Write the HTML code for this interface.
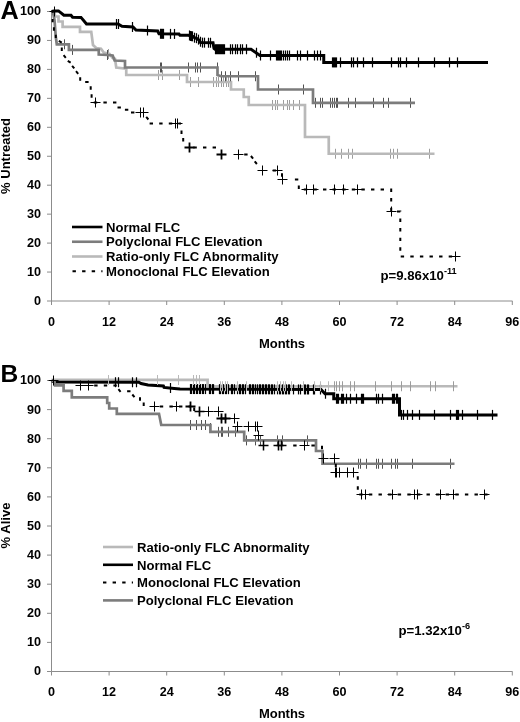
<!DOCTYPE html>
<html><head><meta charset="utf-8"><title>Figure</title>
<style>
html,body{margin:0;padding:0;background:#fff}
svg{display:block}
text{font-family:"Liberation Sans",sans-serif;font-weight:bold;fill:#000}
.t{font-size:12.6px}
.m{font-size:13px}
.l{font-size:13.1px}
.l2{font-size:13.1px}
.big{font-size:25.2px}
.bigb{font-size:24.6px}
</style></head><body>
<svg width="520" height="722" viewBox="0 0 520 722">
<rect width="520" height="722" fill="#fff"/>
<path d="M51.5 11.5V301H512.5" stroke="#8c8c8c" stroke-width="1" fill="none"/><path d="M47 301H51.5" stroke="#8c8c8c" stroke-width="1"/><text x="41" y="304.9" text-anchor="end" class="t">0</text><path d="M47 272.05H51.5" stroke="#8c8c8c" stroke-width="1"/><text x="41" y="275.95" text-anchor="end" class="t">10</text><path d="M47 243.1H51.5" stroke="#8c8c8c" stroke-width="1"/><text x="41" y="247" text-anchor="end" class="t">20</text><path d="M47 214.15H51.5" stroke="#8c8c8c" stroke-width="1"/><text x="41" y="218.05" text-anchor="end" class="t">30</text><path d="M47 185.2H51.5" stroke="#8c8c8c" stroke-width="1"/><text x="41" y="189.1" text-anchor="end" class="t">40</text><path d="M47 156.25H51.5" stroke="#8c8c8c" stroke-width="1"/><text x="41" y="160.15" text-anchor="end" class="t">50</text><path d="M47 127.3H51.5" stroke="#8c8c8c" stroke-width="1"/><text x="41" y="131.2" text-anchor="end" class="t">60</text><path d="M47 98.35H51.5" stroke="#8c8c8c" stroke-width="1"/><text x="41" y="102.25" text-anchor="end" class="t">70</text><path d="M47 69.4H51.5" stroke="#8c8c8c" stroke-width="1"/><text x="41" y="73.3" text-anchor="end" class="t">80</text><path d="M47 40.45H51.5" stroke="#8c8c8c" stroke-width="1"/><text x="41" y="44.35" text-anchor="end" class="t">90</text><path d="M47 11.5H51.5" stroke="#8c8c8c" stroke-width="1"/><text x="41" y="15.4" text-anchor="end" class="t">100</text><path d="M51.5 301V305" stroke="#8c8c8c" stroke-width="1"/><text x="51.5" y="325.6" text-anchor="middle" class="t">0</text><path d="M109.1 301V305" stroke="#8c8c8c" stroke-width="1"/><text x="109.1" y="325.6" text-anchor="middle" class="t">12</text><path d="M166.7 301V305" stroke="#8c8c8c" stroke-width="1"/><text x="166.7" y="325.6" text-anchor="middle" class="t">24</text><path d="M224.3 301V305" stroke="#8c8c8c" stroke-width="1"/><text x="224.3" y="325.6" text-anchor="middle" class="t">36</text><path d="M281.9 301V305" stroke="#8c8c8c" stroke-width="1"/><text x="281.9" y="325.6" text-anchor="middle" class="t">48</text><path d="M339.5 301V305" stroke="#8c8c8c" stroke-width="1"/><text x="339.5" y="325.6" text-anchor="middle" class="t">60</text><path d="M397.1 301V305" stroke="#8c8c8c" stroke-width="1"/><text x="397.1" y="325.6" text-anchor="middle" class="t">72</text><path d="M454.7 301V305" stroke="#8c8c8c" stroke-width="1"/><text x="454.7" y="325.6" text-anchor="middle" class="t">84</text><path d="M512.3 301V305" stroke="#8c8c8c" stroke-width="1"/><text x="512.3" y="325.6" text-anchor="middle" class="t">96</text><text x="282" y="347.5" text-anchor="middle" class="m">Months</text><text transform="translate(9.8 156) rotate(-90)" text-anchor="middle" class="m">% Untreated</text><path d="M51.5 380.5V671.5H512.5" stroke="#8c8c8c" stroke-width="1" fill="none"/><path d="M47 671.5H51.5" stroke="#8c8c8c" stroke-width="1"/><text x="41" y="675.4" text-anchor="end" class="t">0</text><path d="M47 642.4H51.5" stroke="#8c8c8c" stroke-width="1"/><text x="41" y="646.3" text-anchor="end" class="t">10</text><path d="M47 613.3H51.5" stroke="#8c8c8c" stroke-width="1"/><text x="41" y="617.2" text-anchor="end" class="t">20</text><path d="M47 584.2H51.5" stroke="#8c8c8c" stroke-width="1"/><text x="41" y="588.1" text-anchor="end" class="t">30</text><path d="M47 555.1H51.5" stroke="#8c8c8c" stroke-width="1"/><text x="41" y="559" text-anchor="end" class="t">40</text><path d="M47 526H51.5" stroke="#8c8c8c" stroke-width="1"/><text x="41" y="529.9" text-anchor="end" class="t">50</text><path d="M47 496.9H51.5" stroke="#8c8c8c" stroke-width="1"/><text x="41" y="500.8" text-anchor="end" class="t">60</text><path d="M47 467.8H51.5" stroke="#8c8c8c" stroke-width="1"/><text x="41" y="471.7" text-anchor="end" class="t">70</text><path d="M47 438.7H51.5" stroke="#8c8c8c" stroke-width="1"/><text x="41" y="442.6" text-anchor="end" class="t">80</text><path d="M47 409.6H51.5" stroke="#8c8c8c" stroke-width="1"/><text x="41" y="413.5" text-anchor="end" class="t">90</text><path d="M47 380.5H51.5" stroke="#8c8c8c" stroke-width="1"/><text x="41" y="384.4" text-anchor="end" class="t">100</text><path d="M51.5 671.5V675.5" stroke="#8c8c8c" stroke-width="1"/><text x="51.5" y="696.1" text-anchor="middle" class="t">0</text><path d="M109.1 671.5V675.5" stroke="#8c8c8c" stroke-width="1"/><text x="109.1" y="696.1" text-anchor="middle" class="t">12</text><path d="M166.7 671.5V675.5" stroke="#8c8c8c" stroke-width="1"/><text x="166.7" y="696.1" text-anchor="middle" class="t">24</text><path d="M224.3 671.5V675.5" stroke="#8c8c8c" stroke-width="1"/><text x="224.3" y="696.1" text-anchor="middle" class="t">36</text><path d="M281.9 671.5V675.5" stroke="#8c8c8c" stroke-width="1"/><text x="281.9" y="696.1" text-anchor="middle" class="t">48</text><path d="M339.5 671.5V675.5" stroke="#8c8c8c" stroke-width="1"/><text x="339.5" y="696.1" text-anchor="middle" class="t">60</text><path d="M397.1 671.5V675.5" stroke="#8c8c8c" stroke-width="1"/><text x="397.1" y="696.1" text-anchor="middle" class="t">72</text><path d="M454.7 671.5V675.5" stroke="#8c8c8c" stroke-width="1"/><text x="454.7" y="696.1" text-anchor="middle" class="t">84</text><path d="M512.3 671.5V675.5" stroke="#8c8c8c" stroke-width="1"/><text x="512.3" y="696.1" text-anchor="middle" class="t">96</text><text x="282" y="718" text-anchor="middle" class="m">Months</text><text transform="translate(9.8 525.5) rotate(-90)" text-anchor="middle" class="m">% Alive</text><path d="M108.5 49V59" stroke="#9c9c9c" stroke-width="1"/><path d="M158.5 70V80" stroke="#9c9c9c" stroke-width="1"/><path d="M162.5 70V80" stroke="#9c9c9c" stroke-width="1"/><path d="M179.5 70V80" stroke="#9c9c9c" stroke-width="1"/><path d="M190.5 77V87" stroke="#9c9c9c" stroke-width="1"/><path d="M198.5 77V87" stroke="#9c9c9c" stroke-width="1"/><path d="M213.5 77V87" stroke="#9c9c9c" stroke-width="1"/><path d="M216.5 77V87" stroke="#9c9c9c" stroke-width="1"/><path d="M218.5 77V87" stroke="#9c9c9c" stroke-width="1"/><path d="M221.5 77V87" stroke="#9c9c9c" stroke-width="1"/><path d="M223.5 77V87" stroke="#9c9c9c" stroke-width="1"/><path d="M226.5 77V87" stroke="#9c9c9c" stroke-width="1"/><path d="M228.5 77V87" stroke="#9c9c9c" stroke-width="1"/><path d="M272.5 100V110" stroke="#9c9c9c" stroke-width="1"/><path d="M275.5 100V110" stroke="#9c9c9c" stroke-width="1"/><path d="M277.5 100V110" stroke="#9c9c9c" stroke-width="1"/><path d="M283.5 100V110" stroke="#9c9c9c" stroke-width="1"/><path d="M287.5 100V110" stroke="#9c9c9c" stroke-width="1"/><path d="M289.5 100V110" stroke="#9c9c9c" stroke-width="1"/><path d="M293.5 100V110" stroke="#9c9c9c" stroke-width="1"/><path d="M299.5 100V110" stroke="#9c9c9c" stroke-width="1"/><path d="M335.5 148.75V158.75" stroke="#9c9c9c" stroke-width="1"/><path d="M341.5 148.75V158.75" stroke="#9c9c9c" stroke-width="1"/><path d="M348.5 148.75V158.75" stroke="#9c9c9c" stroke-width="1"/><path d="M352.5 148.75V158.75" stroke="#9c9c9c" stroke-width="1"/><path d="M390.5 148.75V158.75" stroke="#9c9c9c" stroke-width="1"/><path d="M393.5 148.75V158.75" stroke="#9c9c9c" stroke-width="1"/><path d="M397.5 148.75V158.75" stroke="#9c9c9c" stroke-width="1"/><path d="M429.5 148.75V158.75" stroke="#9c9c9c" stroke-width="1"/><polyline points="51.5,11.5 54.5,12 55,16.5 58.5,16.5 58.5,21.5 62.6,21.5 62.6,26.9 80,26.9 80,31.9 91.25,31.9 93,45 96.25,48 101,48.75 103.75,52.5 109.6,54 112.7,58 115,58.75 116.25,67.5 126.25,68.75 126.25,75 187,75 187,82 231,82 231,89.5 243.75,89.5 243.75,97 248.75,97 248.75,105 305,105 305,137 328.75,137 328.75,153.75 434.5,153.75" fill="none" stroke="#b9b9b9" stroke-width="2.7" stroke-linejoin="miter"/><path d="M64.5 39.3V49.3" stroke="#505050" stroke-width="1"/><path d="M72.5 44.9V54.9" stroke="#505050" stroke-width="1"/><path d="M107.5 50V60" stroke="#505050" stroke-width="1"/><path d="M161.5 62.5V72.5" stroke="#505050" stroke-width="1"/><path d="M160.5 62.5V72.5" stroke="#505050" stroke-width="1"/><path d="M188.5 62.5V72.5" stroke="#505050" stroke-width="1"/><path d="M195.5 62.5V72.5" stroke="#505050" stroke-width="1"/><path d="M197.5 62.5V72.5" stroke="#505050" stroke-width="1"/><path d="M200.5 62.5V72.5" stroke="#505050" stroke-width="1"/><path d="M217.5 62.5V72.5" stroke="#505050" stroke-width="1"/><path d="M221.5 71.25V81.25" stroke="#505050" stroke-width="1"/><path d="M225.5 71.25V81.25" stroke="#505050" stroke-width="1"/><path d="M230.5 71.25V81.25" stroke="#505050" stroke-width="1"/><path d="M238.5 71.25V81.25" stroke="#505050" stroke-width="1"/><path d="M255.5 71.25V81.25" stroke="#505050" stroke-width="1"/><path d="M278.5 84.5V94.5" stroke="#505050" stroke-width="1"/><path d="M303.5 84.5V94.5" stroke="#505050" stroke-width="1"/><path d="M315.5 97.8V107.8" stroke="#505050" stroke-width="1"/><path d="M320.5 97.8V107.8" stroke="#505050" stroke-width="1"/><path d="M322.5 97.8V107.8" stroke="#505050" stroke-width="1"/><path d="M330.5 97.8V107.8" stroke="#505050" stroke-width="1"/><path d="M332.5 97.8V107.8" stroke="#505050" stroke-width="1"/><path d="M334.5 97.8V107.8" stroke="#505050" stroke-width="1"/><path d="M336.5 97.8V107.8" stroke="#505050" stroke-width="1"/><path d="M337.5 97.8V107.8" stroke="#505050" stroke-width="1"/><path d="M348.5 97.8V107.8" stroke="#505050" stroke-width="1"/><path d="M355.5 97.8V107.8" stroke="#505050" stroke-width="1"/><path d="M373.5 97.8V107.8" stroke="#505050" stroke-width="1"/><path d="M383.5 97.8V107.8" stroke="#505050" stroke-width="1"/><path d="M388.5 97.8V107.8" stroke="#505050" stroke-width="1"/><path d="M410.5 97.8V107.8" stroke="#505050" stroke-width="1"/><polyline points="51.5,11.5 53,12.5 54.5,20 55.8,37 56.8,44.3 68.9,44.3 68.9,49.9 98.75,49.9 98.75,54.5 107.5,55 112.7,55.5 114.6,60.5 125,61 125,67.5 217.5,67.5 217.5,75 221,76.25 258,76.25 258,89.5 313,89.5 313,102.8 415,102.8" fill="none" stroke="#7c7c7c" stroke-width="2.7" stroke-linejoin="miter"/><path d="M52.6 18.9 L52.6 22.3M53.9 27.3 L53.9 30.7M55.8 34.7 L55.8 38.1M58.855 40.899 L61.745 42.701M61.8 47.6 L61.8 51M63.612 55.191 L65.788 57.809M67.755 60.799 L70.645 62.601M72.112 65.791 L74.288 68.409M76.012 71.191 L78.188 73.809M80.2 77.3 L80.2 80.7M85.2 81.9 L88.6 81.9M90.7 86.3 L90.7 89.7M91.6 94.3 L91.6 97.7M93.8 102.5 L116.5 102.5M117.5 107.5 L120.9 107.5M124.9 109.8 L128.3 109.8M131 112.5 L134.4 112.5M146.212 116.891 L148.388 119.509M149.6 123.5 L181 123.5M181.5 130.6 L181.5 134M183.2 138 L183.2 141.4M193.4 147.5 L216.2 147.5M244.2 154.5 L247.6 154.5M250.912 155.991 L253.088 158.609M254.712 161.391 L256.888 164.009M272.7 170.5 L276.1 170.5M282 173.3 L282 176.7M294.9 179.5 L298.5 179.5M298.8 185.6 L298.8 189M303.8 189.5 L391.2 189.5 L391.2 211.5 L400.3 211.5 L400.3 214M400.3 218.5 L400.3 256.5 L455 256.5" fill="none" stroke="#000" stroke-width="2" stroke-dasharray="3.4 6.2"/><path d="M54.5 6.5V16.5M49.5 11.5H59.5" stroke="#000" stroke-width="1"/><path d="M95.5 97.5V107.5M90.5 102.5H100.5" stroke="#000" stroke-width="1"/><path d="M140.5 107.5V117.5M135.5 112.5H145.5" stroke="#000" stroke-width="1"/><path d="M143.5 107.5V117.5M138.5 112.5H148.5" stroke="#000" stroke-width="1"/><path d="M175.5 118.5V128.5M170.5 123.5H180.5" stroke="#000" stroke-width="1"/><path d="M177.5 118.5V128.5M172.5 123.5H182.5" stroke="#000" stroke-width="1"/><path d="M189.5 142.5V152.5M184.5 147.5H194.5" stroke="#000" stroke-width="1.8"/><path d="M221.5 149.5V159.5M216.5 154.5H226.5" stroke="#000" stroke-width="1.8"/><path d="M238.5 149.5V159.5M233.5 154.5H243.5" stroke="#000" stroke-width="1"/><path d="M262.5 165.5V175.5M257.5 170.5H267.5" stroke="#000" stroke-width="1"/><path d="M277.5 165.5V175.5M272.5 170.5H282.5" stroke="#000" stroke-width="1"/><path d="M282.5 174.5V184.5M277.5 179.5H287.5" stroke="#000" stroke-width="1"/><path d="M306.5 184.5V194.5M301.5 189.5H311.5" stroke="#000" stroke-width="1"/><path d="M313.5 184.5V194.5M308.5 189.5H318.5" stroke="#000" stroke-width="1"/><path d="M334.5 184.5V194.5M329.5 189.5H339.5" stroke="#000" stroke-width="1"/><path d="M343.5 184.5V194.5M338.5 189.5H348.5" stroke="#000" stroke-width="1"/><path d="M357.5 184.5V194.5M352.5 189.5H362.5" stroke="#000" stroke-width="1"/><path d="M391.5 206.5V216.5M386.5 211.5H396.5" stroke="#000" stroke-width="1"/><path d="M455.5 251.5V261.5M450.5 256.5H460.5" stroke="#000" stroke-width="1"/><polyline points="51.5,11.5 54,11 58.5,10.9 63.9,15.2 71,15.3 72.6,17.3 81,17.4 86.5,24 118,24 122,26.2 133,27 136,30 157.7,31 159,33.75 179,34 180,35.3 188.75,35.3 190,36 193,36.5 194.5,37.7 197,38.5 199,40 200.5,42.6 213,42.8 214,48.5 215,49.25 251,49.25 260,55.5 323.75,55.5 323.75,62.4 488,62.4" fill="none" stroke="#000" stroke-width="3" stroke-linejoin="miter"/><path d="M116.5 19V29" stroke="#000" stroke-width="1.2"/><path d="M118.5 19V29" stroke="#000" stroke-width="1.2"/><path d="M132.5 21.9709V31.9709" stroke="#000" stroke-width="1.2"/><path d="M147.5 25.5346V35.5346" stroke="#000" stroke-width="1.2"/><path d="M160.5 28.7725V38.7725" stroke="#000" stroke-width="1.2"/><path d="M161.5 28.785V38.785" stroke="#000" stroke-width="1.2"/><path d="M162.5 28.7975V38.7975" stroke="#000" stroke-width="1.2"/><path d="M163.5 28.8075V38.8075" stroke="#000" stroke-width="1.2"/><path d="M170.5 28.8875V38.8875" stroke="#000" stroke-width="1.2"/><path d="M174.5 28.945V38.945" stroke="#000" stroke-width="1.2"/><path d="M189.5 30.44V40.44" stroke="#000" stroke-width="1.2"/><path d="M190.5 31V41" stroke="#000" stroke-width="1.2"/><path d="M191.5 31.1667V41.1667" stroke="#000" stroke-width="1.2"/><path d="M192.5 31.3333V41.3333" stroke="#000" stroke-width="1.2"/><path d="M194.5 32.7V42.7" stroke="#000" stroke-width="1.2"/><path d="M196.5 33.18V43.18" stroke="#000" stroke-width="1.2"/><path d="M198.5 34.625V44.625" stroke="#000" stroke-width="1.2"/><path d="M200.5 36.7333V46.7333" stroke="#000" stroke-width="1.2"/><path d="M202.5 37.632V47.632" stroke="#000" stroke-width="1.2"/><path d="M204.5 37.656V47.656" stroke="#000" stroke-width="1.2"/><path d="M208.5 37.728V47.728" stroke="#000" stroke-width="1.2"/><path d="M210.5 37.752V47.752" stroke="#000" stroke-width="1.2"/><path d="M215.5 44.25V54.25" stroke="#000" stroke-width="1.2"/><path d="M216.5 44.25V54.25" stroke="#000" stroke-width="1.2"/><path d="M217.5 44.25V54.25" stroke="#000" stroke-width="1.2"/><path d="M218.5 44.25V54.25" stroke="#000" stroke-width="1.2"/><path d="M219.5 44.25V54.25" stroke="#000" stroke-width="1.2"/><path d="M220.5 44.25V54.25" stroke="#000" stroke-width="1.2"/><path d="M221.5 44.25V54.25" stroke="#000" stroke-width="1.2"/><path d="M222.5 44.25V54.25" stroke="#000" stroke-width="1.2"/><path d="M223.5 44.25V54.25" stroke="#000" stroke-width="1.2"/><path d="M224.5 44.25V54.25" stroke="#000" stroke-width="1.2"/><path d="M230.5 44.25V54.25" stroke="#000" stroke-width="1.2"/><path d="M232.5 44.25V54.25" stroke="#000" stroke-width="1.2"/><path d="M235.5 44.25V54.25" stroke="#000" stroke-width="1.2"/><path d="M237.5 44.25V54.25" stroke="#000" stroke-width="1.2"/><path d="M240.5 44.25V54.25" stroke="#000" stroke-width="1.2"/><path d="M242.5 44.25V54.25" stroke="#000" stroke-width="1.2"/><path d="M246.5 44.25V54.25" stroke="#000" stroke-width="1.2"/><path d="M256.5 47.7222V57.7222" stroke="#000" stroke-width="1.2"/><path d="M260.5 50.5V60.5" stroke="#000" stroke-width="1.2"/><path d="M270.5 50.5V60.5" stroke="#000" stroke-width="1.2"/><path d="M276.5 50.5V60.5" stroke="#000" stroke-width="1.2"/><path d="M277.5 50.5V60.5" stroke="#000" stroke-width="1.2"/><path d="M278.5 50.5V60.5" stroke="#000" stroke-width="1.2"/><path d="M279.5 50.5V60.5" stroke="#000" stroke-width="1.2"/><path d="M280.5 50.5V60.5" stroke="#000" stroke-width="1.2"/><path d="M281.5 50.5V60.5" stroke="#000" stroke-width="1.2"/><path d="M283.5 50.5V60.5" stroke="#000" stroke-width="1.2"/><path d="M285.5 50.5V60.5" stroke="#000" stroke-width="1.2"/><path d="M287.5 50.5V60.5" stroke="#000" stroke-width="1.2"/><path d="M289.5 50.5V60.5" stroke="#000" stroke-width="1.2"/><path d="M297.5 50.5V60.5" stroke="#000" stroke-width="1.2"/><path d="M300.5 50.5V60.5" stroke="#000" stroke-width="1.2"/><path d="M307.5 50.5V60.5" stroke="#000" stroke-width="1.2"/><path d="M314.5 50.5V60.5" stroke="#000" stroke-width="1.2"/><path d="M317.5 50.5V60.5" stroke="#000" stroke-width="1.2"/><path d="M320.5 50.5V60.5" stroke="#000" stroke-width="1.2"/><path d="M332.5 57.4V67.4" stroke="#000" stroke-width="1.2"/><path d="M333.5 57.4V67.4" stroke="#000" stroke-width="1.2"/><path d="M334.5 57.4V67.4" stroke="#000" stroke-width="1.2"/><path d="M335.5 57.4V67.4" stroke="#000" stroke-width="1.2"/><path d="M336.5 57.4V67.4" stroke="#000" stroke-width="1.2"/><path d="M340.5 57.4V67.4" stroke="#000" stroke-width="1.2"/><path d="M351.5 57.4V67.4" stroke="#000" stroke-width="1.2"/><path d="M353.5 57.4V67.4" stroke="#000" stroke-width="1.2"/><path d="M357.5 57.4V67.4" stroke="#000" stroke-width="1.2"/><path d="M363.5 57.4V67.4" stroke="#000" stroke-width="1.2"/><path d="M372.5 57.4V67.4" stroke="#000" stroke-width="1.2"/><path d="M391.5 57.4V67.4" stroke="#000" stroke-width="1.2"/><path d="M398.5 57.4V67.4" stroke="#000" stroke-width="1.2"/><path d="M400.5 57.4V67.4" stroke="#000" stroke-width="1.2"/><path d="M406.5 57.4V67.4" stroke="#000" stroke-width="1.2"/><path d="M418.5 57.4V67.4" stroke="#000" stroke-width="1.2"/><path d="M434.5 57.4V67.4" stroke="#000" stroke-width="1.2"/><path d="M449.5 57.4V67.4" stroke="#000" stroke-width="1.2"/><path d="M457.5 57.4V67.4" stroke="#000" stroke-width="1.2"/><path d="M72 227H102.5" stroke="#000" stroke-width="2.6"/><text x="106" y="231.6" class="l">Normal FLC</text><path d="M72 241.75H102.5" stroke="#7c7c7c" stroke-width="2.6"/><text x="106" y="246.35" class="l">Polyclonal FLC Elevation</text><path d="M72 256.5H102.5" stroke="#b9b9b9" stroke-width="2.6"/><text x="106" y="261.1" class="l">Ratio-only FLC Abnormality</text><path d="M72.5 271.25H102.5" stroke="#000" stroke-width="2" stroke-dasharray="3.4 6.2"/><text x="106" y="275.85" class="l">Monoclonal FLC Elevation</text><text x="380.5" y="279.5" class="m" style="font-size:13.2px">p=9.86x10<tspan dy="-5.5" font-size="9.2">-11</tspan></text><polyline points="51.5,379.8 207.6,379.8 207.6,386.25 457.5,386.25" fill="none" stroke="#b9b9b9" stroke-width="2.7" stroke-linejoin="miter"/><polyline points="51.5,380.5 54,382 138.8,382.3 141,383.5 148,385 163.4,386 164,387.4 174.2,388.4 180,389 321,389.5 325,393.75 333.75,393.75 333.75,398.75 399.5,398.75 399.5,414.9 497.5,414.9" fill="none" stroke="#000" stroke-width="3" stroke-linejoin="miter"/><path d="M115.5 377.216V387.216" stroke="#000" stroke-width="1.2"/><path d="M118.5 377.226V387.226" stroke="#000" stroke-width="1.2"/><path d="M132.5 377.278V387.278" stroke="#000" stroke-width="1.2"/><path d="M136.5 377.29V387.29" stroke="#000" stroke-width="1.2"/><path d="M170.5 382.988V392.988" stroke="#000" stroke-width="1.2"/><path d="M190.5 384.035V394.035" stroke="#000" stroke-width="1.2"/><path d="M191.5 384.041V394.041" stroke="#000" stroke-width="1.2"/><path d="M193.5 384.046V394.046" stroke="#000" stroke-width="1.2"/><path d="M194.5 384.051V394.051" stroke="#000" stroke-width="1.2"/><path d="M196.5 384.057V394.057" stroke="#000" stroke-width="1.2"/><path d="M197.5 384.062V394.062" stroke="#000" stroke-width="1.2"/><path d="M199.5 384.067V394.067" stroke="#000" stroke-width="1.2"/><path d="M200.5 384.073V394.073" stroke="#000" stroke-width="1.2"/><path d="M202.5 384.078V394.078" stroke="#000" stroke-width="1.2"/><path d="M203.5 384.083V394.083" stroke="#000" stroke-width="1.2"/><path d="M205.5 384.089V394.089" stroke="#000" stroke-width="1.2"/><path d="M209.5 384.103V394.103" stroke="#000" stroke-width="1.2"/><path d="M210.5 384.108V394.108" stroke="#000" stroke-width="1.2"/><path d="M212.5 384.113V394.113" stroke="#000" stroke-width="1.2"/><path d="M213.5 384.119V394.119" stroke="#000" stroke-width="1.2"/><path d="M219.5 384.138V394.138" stroke="#000" stroke-width="1.2"/><path d="M220.5 384.144V394.144" stroke="#000" stroke-width="1.2"/><path d="M222.5 384.149V394.149" stroke="#000" stroke-width="1.2"/><path d="M223.5 384.154V394.154" stroke="#000" stroke-width="1.2"/><path d="M225.5 384.16V394.16" stroke="#000" stroke-width="1.2"/><path d="M226.5 384.165V394.165" stroke="#000" stroke-width="1.2"/><path d="M228.5 384.17V394.17" stroke="#000" stroke-width="1.2"/><path d="M231.5 384.181V394.181" stroke="#000" stroke-width="1.2"/><path d="M232.5 384.186V394.186" stroke="#000" stroke-width="1.2"/><path d="M234.5 384.191V394.191" stroke="#000" stroke-width="1.2"/><path d="M237.5 384.204V394.204" stroke="#000" stroke-width="1.2"/><path d="M239.5 384.209V394.209" stroke="#000" stroke-width="1.2"/><path d="M240.5 384.215V394.215" stroke="#000" stroke-width="1.2"/><path d="M242.5 384.22V394.22" stroke="#000" stroke-width="1.2"/><path d="M243.5 384.225V394.225" stroke="#000" stroke-width="1.2"/><path d="M245.5 384.23V394.23" stroke="#000" stroke-width="1.2"/><path d="M249.5 384.245V394.245" stroke="#000" stroke-width="1.2"/><path d="M250.5 384.25V394.25" stroke="#000" stroke-width="1.2"/><path d="M252.5 384.255V394.255" stroke="#000" stroke-width="1.2"/><path d="M253.5 384.261V394.261" stroke="#000" stroke-width="1.2"/><path d="M255.5 384.266V394.266" stroke="#000" stroke-width="1.2"/><path d="M257.5 384.275V394.275" stroke="#000" stroke-width="1.2"/><path d="M259.5 384.28V394.28" stroke="#000" stroke-width="1.2"/><path d="M260.5 384.285V394.285" stroke="#000" stroke-width="1.2"/><path d="M262.5 384.291V394.291" stroke="#000" stroke-width="1.2"/><path d="M263.5 384.296V394.296" stroke="#000" stroke-width="1.2"/><path d="M265.5 384.301V394.301" stroke="#000" stroke-width="1.2"/><path d="M266.5 384.307V394.307" stroke="#000" stroke-width="1.2"/><path d="M268.5 384.312V394.312" stroke="#000" stroke-width="1.2"/><path d="M269.5 384.317V394.317" stroke="#000" stroke-width="1.2"/><path d="M271.5 384.323V394.323" stroke="#000" stroke-width="1.2"/><path d="M272.5 384.328V394.328" stroke="#000" stroke-width="1.2"/><path d="M274.5 384.333V394.333" stroke="#000" stroke-width="1.2"/><path d="M277.5 384.346V394.346" stroke="#000" stroke-width="1.2"/><path d="M279.5 384.351V394.351" stroke="#000" stroke-width="1.2"/><path d="M280.5 384.356V394.356" stroke="#000" stroke-width="1.2"/><path d="M282.5 384.362V394.362" stroke="#000" stroke-width="1.2"/><path d="M283.5 384.367V394.367" stroke="#000" stroke-width="1.2"/><path d="M285.5 384.372V394.372" stroke="#000" stroke-width="1.2"/><path d="M286.5 384.378V394.378" stroke="#000" stroke-width="1.2"/><path d="M288.5 384.383V394.383" stroke="#000" stroke-width="1.2"/><path d="M289.5 384.388V394.388" stroke="#000" stroke-width="1.2"/><path d="M293.5 384.402V394.402" stroke="#000" stroke-width="1.2"/><path d="M298.5 384.42V394.42" stroke="#000" stroke-width="1.2"/><path d="M300.5 384.426V394.426" stroke="#000" stroke-width="1.2"/><path d="M304.5 384.44V394.44" stroke="#000" stroke-width="1.2"/><path d="M305.5 384.445V394.445" stroke="#000" stroke-width="1.2"/><path d="M307.5 384.45V394.45" stroke="#000" stroke-width="1.2"/><path d="M308.5 384.456V394.456" stroke="#000" stroke-width="1.2"/><path d="M313.5 384.472V394.472" stroke="#000" stroke-width="1.2"/><path d="M314.5 384.477V394.477" stroke="#000" stroke-width="1.2"/><path d="M320.5 384.499V394.499" stroke="#000" stroke-width="1.2"/><path d="M325.5 388.75V398.75" stroke="#000" stroke-width="1.2"/><path d="M336.5 393.75V403.75" stroke="#000" stroke-width="1.2"/><path d="M337.5 393.75V403.75" stroke="#000" stroke-width="1.2"/><path d="M338.5 393.75V403.75" stroke="#000" stroke-width="1.2"/><path d="M341.5 393.75V403.75" stroke="#000" stroke-width="1.2"/><path d="M342.5 393.75V403.75" stroke="#000" stroke-width="1.2"/><path d="M343.5 393.75V403.75" stroke="#000" stroke-width="1.2"/><path d="M346.5 393.75V403.75" stroke="#000" stroke-width="1.2"/><path d="M350.5 393.75V403.75" stroke="#000" stroke-width="1.2"/><path d="M356.5 393.75V403.75" stroke="#000" stroke-width="1.2"/><path d="M361.5 393.75V403.75" stroke="#000" stroke-width="1.2"/><path d="M362.5 393.75V403.75" stroke="#000" stroke-width="1.2"/><path d="M363.5 393.75V403.75" stroke="#000" stroke-width="1.2"/><path d="M376.5 393.75V403.75" stroke="#000" stroke-width="1.2"/><path d="M378.5 393.75V403.75" stroke="#000" stroke-width="1.2"/><path d="M382.5 393.75V403.75" stroke="#000" stroke-width="1.2"/><path d="M392.5 393.75V403.75" stroke="#000" stroke-width="1.2"/><path d="M393.5 393.75V403.75" stroke="#000" stroke-width="1.2"/><path d="M394.5 393.75V403.75" stroke="#000" stroke-width="1.2"/><path d="M396.5 393.75V403.75" stroke="#000" stroke-width="1.2"/><path d="M397.5 393.75V403.75" stroke="#000" stroke-width="1.2"/><path d="M401.5 409.9V419.9" stroke="#000" stroke-width="1.2"/><path d="M403.5 409.9V419.9" stroke="#000" stroke-width="1.2"/><path d="M407.5 409.9V419.9" stroke="#000" stroke-width="1.2"/><path d="M412.5 409.9V419.9" stroke="#000" stroke-width="1.2"/><path d="M419.5 409.9V419.9" stroke="#000" stroke-width="1.2"/><path d="M434.5 409.9V419.9" stroke="#000" stroke-width="1.2"/><path d="M450.5 409.9V419.9" stroke="#000" stroke-width="1.2"/><path d="M456.5 409.9V419.9" stroke="#000" stroke-width="1.2"/><path d="M457.5 409.9V419.9" stroke="#000" stroke-width="1.2"/><path d="M458.5 409.9V419.9" stroke="#000" stroke-width="1.2"/><path d="M462.5 409.9V419.9" stroke="#000" stroke-width="1.2"/><path d="M477.5 409.9V419.9" stroke="#000" stroke-width="1.2"/><path d="M492.5 409.9V419.9" stroke="#000" stroke-width="1.2"/><path d="M108.5 375V385" stroke="#b9b9b9" stroke-width="1"/><path d="M157.5 375V385" stroke="#b9b9b9" stroke-width="1"/><path d="M178.5 375V385" stroke="#b9b9b9" stroke-width="1"/><path d="M193.5 375V385" stroke="#b9b9b9" stroke-width="1"/><path d="M196.5 375V385" stroke="#b9b9b9" stroke-width="1"/><path d="M199.5 375V385" stroke="#b9b9b9" stroke-width="1"/><path d="M220.5 381.25V391.25" stroke="#b9b9b9" stroke-width="1"/><path d="M222.5 381.25V391.25" stroke="#b9b9b9" stroke-width="1"/><path d="M225.5 381.25V391.25" stroke="#b9b9b9" stroke-width="1"/><path d="M227.5 381.25V391.25" stroke="#b9b9b9" stroke-width="1"/><path d="M237.5 381.25V391.25" stroke="#b9b9b9" stroke-width="1"/><path d="M246.5 381.25V391.25" stroke="#b9b9b9" stroke-width="1"/><path d="M277.5 381.25V391.25" stroke="#b9b9b9" stroke-width="1"/><path d="M280.5 381.25V391.25" stroke="#b9b9b9" stroke-width="1"/><path d="M283.5 381.25V391.25" stroke="#b9b9b9" stroke-width="1"/><path d="M285.5 381.25V391.25" stroke="#b9b9b9" stroke-width="1"/><path d="M291.5 381.25V391.25" stroke="#b9b9b9" stroke-width="1"/><path d="M303.5 381.25V391.25" stroke="#b9b9b9" stroke-width="1"/><path d="M314.5 381.25V391.25" stroke="#b9b9b9" stroke-width="1"/><path d="M320.5 381.25V391.25" stroke="#b9b9b9" stroke-width="1"/><path d="M328.5 381.25V391.25" stroke="#b9b9b9" stroke-width="1"/><path d="M334.5 381.25V391.25" stroke="#9c9c9c" stroke-width="1"/><path d="M336.5 381.25V391.25" stroke="#9c9c9c" stroke-width="1"/><path d="M339.5 381.25V391.25" stroke="#9c9c9c" stroke-width="1"/><path d="M342.5 381.25V391.25" stroke="#9c9c9c" stroke-width="1"/><path d="M350.5 381.25V391.25" stroke="#9c9c9c" stroke-width="1"/><path d="M354.5 381.25V391.25" stroke="#9c9c9c" stroke-width="1"/><path d="M375.5 381.25V391.25" stroke="#9c9c9c" stroke-width="1"/><path d="M391.5 381.25V391.25" stroke="#9c9c9c" stroke-width="1"/><path d="M401.5 381.25V391.25" stroke="#9c9c9c" stroke-width="1"/><path d="M410.5 381.25V391.25" stroke="#9c9c9c" stroke-width="1"/><path d="M430.5 381.25V391.25" stroke="#9c9c9c" stroke-width="1"/><path d="M435.5 381.25V391.25" stroke="#9c9c9c" stroke-width="1"/><path d="M453.5 381.25V391.25" stroke="#9c9c9c" stroke-width="1"/><path d="M190.5 420V430" stroke="#505050" stroke-width="1"/><path d="M196.5 420V430" stroke="#505050" stroke-width="1"/><path d="M201.5 420V430" stroke="#505050" stroke-width="1"/><path d="M205.5 420V430" stroke="#505050" stroke-width="1"/><path d="M210.5 423V433" stroke="#505050" stroke-width="1"/><path d="M218.5 426.8V436.8" stroke="#505050" stroke-width="1"/><path d="M221.5 426.8V436.8" stroke="#505050" stroke-width="1"/><path d="M222.5 426.8V436.8" stroke="#505050" stroke-width="1"/><path d="M228.5 426.8V436.8" stroke="#505050" stroke-width="1"/><path d="M235.5 426.8V436.8" stroke="#505050" stroke-width="1"/><path d="M246.5 435.4V445.4" stroke="#505050" stroke-width="1"/><path d="M255.5 435.4V445.4" stroke="#505050" stroke-width="1"/><path d="M260.5 435.4V445.4" stroke="#505050" stroke-width="1"/><path d="M277.5 435.4V445.4" stroke="#505050" stroke-width="1"/><path d="M282.5 435.4V445.4" stroke="#505050" stroke-width="1"/><path d="M307.5 435.4V445.4" stroke="#505050" stroke-width="1"/><path d="M358.5 458.75V468.75" stroke="#505050" stroke-width="1"/><path d="M360.5 458.75V468.75" stroke="#505050" stroke-width="1"/><path d="M366.5 458.75V468.75" stroke="#505050" stroke-width="1"/><path d="M376.5 458.75V468.75" stroke="#505050" stroke-width="1"/><path d="M378.5 458.75V468.75" stroke="#505050" stroke-width="1"/><path d="M382.5 458.75V468.75" stroke="#505050" stroke-width="1"/><path d="M391.5 458.75V468.75" stroke="#505050" stroke-width="1"/><path d="M395.5 458.75V468.75" stroke="#505050" stroke-width="1"/><path d="M397.5 458.75V468.75" stroke="#505050" stroke-width="1"/><path d="M412.5 458.75V468.75" stroke="#505050" stroke-width="1"/><path d="M450.5 458.75V468.75" stroke="#505050" stroke-width="1"/><polyline points="51.5,380.5 54.5,381.5 55,385.4 63.6,385.4 63.6,390.8 71.8,390.8 71.8,397.4 107.2,397.4 107.2,403 109.2,403 109.2,408.5 116.8,408.5 116.8,413.8 159,413.8 161.25,425 210.4,425 210.4,431.8 244.2,431.8 244.2,440.4 316,440.4 316,451 322.5,451 322.5,463.75 454.5,463.75" fill="none" stroke="#7c7c7c" stroke-width="2.7" stroke-linejoin="miter"/><path d="M94.2 385.5 L117 385.5M118.412 389.191 L120.588 391.809M127.1 391.2 L130.5 391.2M132.312 394.491 L134.488 397.109M140 397.3 L140 400.7M143.7 402.5 L143.7 405.9M159.8 406.5 L190 406.5M194.2 407.6 L194.2 411M293.2 445.5 L296.6 445.5M311.4 445.5 L314.8 445.5M322 445.8 L322 449.2M335.8 463.8 L335.8 467.2M357.8 476.3 L357.8 479.7M357.8 486.3 L357.8 489.7M359.3 494.5 L489 494.5" fill="none" stroke="#000" stroke-width="2" stroke-dasharray="3.4 6.2"/><path d="M53.5 375.5V385.5M48.5 380.5H58.5" stroke="#000" stroke-width="1"/><path d="M80.5 380.5V390.5M75.5 385.5H85.5" stroke="#000" stroke-width="1"/><path d="M88.5 380.5V390.5M83.5 385.5H93.5" stroke="#000" stroke-width="1"/><path d="M154.5 401.5V411.5M149.5 406.5H159.5" stroke="#000" stroke-width="1"/><path d="M176.5 401.5V411.5M171.5 406.5H181.5" stroke="#000" stroke-width="1"/><path d="M190.5 401.5V411.5M185.5 406.5H195.5" stroke="#000" stroke-width="1.8"/><path d="M199.5 406.5V416.5M194.5 411.5H204.5" stroke="#000" stroke-width="1.7"/><path d="M208.5 406.5V416.5M203.5 411.5H213.5" stroke="#000" stroke-width="1"/><path d="M218.5 406.5V416.5M213.5 411.5H223.5" stroke="#000" stroke-width="1"/><path d="M221.5 413.5V423.5M216.5 418.5H226.5" stroke="#000" stroke-width="1.8"/><path d="M225.5 413.5V423.5M220.5 418.5H230.5" stroke="#000" stroke-width="1.8"/><path d="M234.5 413.5V423.5M229.5 418.5H239.5" stroke="#000" stroke-width="1"/><path d="M237.5 421.5V431.5M232.5 426.5H242.5" stroke="#000" stroke-width="1"/><path d="M248.5 421.5V431.5M243.5 426.5H253.5" stroke="#000" stroke-width="1"/><path d="M255.5 421.5V431.5M250.5 426.5H260.5" stroke="#000" stroke-width="1"/><path d="M257.5 421.5V431.5M252.5 426.5H262.5" stroke="#000" stroke-width="1"/><path d="M258.5 430.5V440.5M253.5 435.5H263.5" stroke="#000" stroke-width="1"/><path d="M263.5 440.5V450.5M258.5 445.5H268.5" stroke="#000" stroke-width="1.5"/><path d="M278.5 440.5V450.5M273.5 445.5H283.5" stroke="#000" stroke-width="1.6"/><path d="M281.5 440.5V450.5M276.5 445.5H286.5" stroke="#000" stroke-width="1.6"/><path d="M304.5 440.5V450.5M299.5 445.5H309.5" stroke="#000" stroke-width="1"/><path d="M323.5 453.5V463.5M318.5 458.5H328.5" stroke="#000" stroke-width="1"/><path d="M334.5 453.5V463.5M329.5 458.5H339.5" stroke="#000" stroke-width="1"/><path d="M335.5 467.5V477.5M330.5 472.5H340.5" stroke="#000" stroke-width="1"/><path d="M336.5 467.5V477.5M331.5 472.5H341.5" stroke="#000" stroke-width="1"/><path d="M339.5 467.5V477.5M334.5 472.5H344.5" stroke="#000" stroke-width="1"/><path d="M347.5 467.5V477.5M342.5 472.5H352.5" stroke="#000" stroke-width="1"/><path d="M353.5 467.5V477.5M348.5 472.5H358.5" stroke="#000" stroke-width="1"/><path d="M361.5 489.5V499.5M356.5 494.5H366.5" stroke="#000" stroke-width="1"/><path d="M365.5 489.5V499.5M360.5 494.5H370.5" stroke="#000" stroke-width="1"/><path d="M392.5 489.5V499.5M387.5 494.5H397.5" stroke="#000" stroke-width="1"/><path d="M414.5 489.5V499.5M409.5 494.5H419.5" stroke="#000" stroke-width="1"/><path d="M417.5 489.5V499.5M412.5 494.5H422.5" stroke="#000" stroke-width="1"/><path d="M440.5 489.5V499.5M435.5 494.5H445.5" stroke="#000" stroke-width="1"/><path d="M453.5 489.5V499.5M448.5 494.5H458.5" stroke="#000" stroke-width="1"/><path d="M484.5 489.5V499.5M479.5 494.5H489.5" stroke="#000" stroke-width="1"/><path d="M103 547H133" stroke="#b9b9b9" stroke-width="2.6"/><text x="137" y="551.7" class="l2">Ratio-only FLC Abnormality</text><path d="M103 564.8H133" stroke="#000" stroke-width="2.6"/><text x="137" y="569.5" class="l2">Normal FLC</text><path d="M103 582.6H133" stroke="#000" stroke-width="2" stroke-dasharray="3.4 6.2"/><text x="137" y="587.3" class="l2">Monoclonal FLC Elevation</text><path d="M103 600.4H133" stroke="#7c7c7c" stroke-width="2.6"/><text x="137" y="605.1" class="l2">Polyclonal FLC Elevation</text><text x="398.5" y="634.5" class="m" style="font-size:13.2px">p=1.32x10<tspan dy="-5.5" font-size="9.2">-6</tspan></text><text x="0.6" y="18.6" class="big">A</text><text x="0.6" y="382.4" class="big bigb">B</text>
</svg>
</body></html>
